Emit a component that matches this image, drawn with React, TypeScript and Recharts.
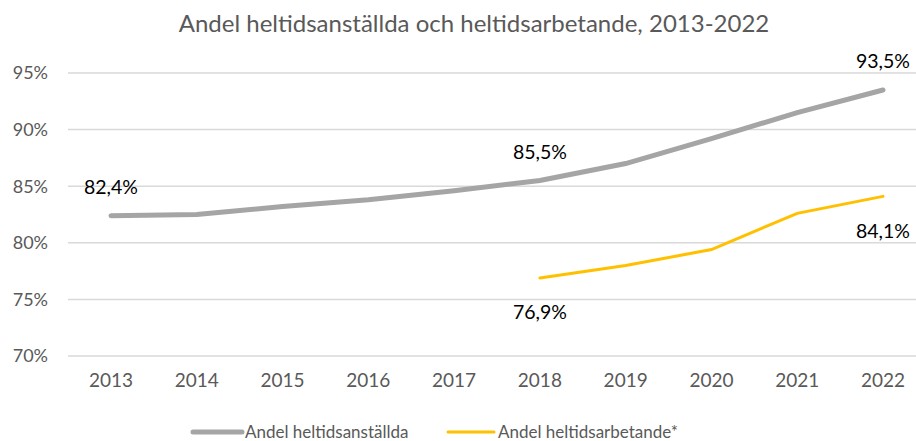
import React from 'react';
import { LineChart, Line, XAxis, YAxis, CartesianGrid, LabelList } from 'recharts';

const years = ['2013', '2014', '2015', '2016', '2017', '2018', '2019', '2020', '2021', '2022'];
const anstallda = [82.4, 82.5, 83.2, 83.8, 84.6, 85.5, 87.0, 89.2, 91.5, 93.5];
const arbetande = [null, null, null, null, null, 76.9, 78.0, 79.4, 82.6, 84.1];
const yTicks = [70, 75, 80, 85, 90, 95];
const anstalldaLabelIdx = [0, 5, 9];
const arbetandeLabelIdx = [5, 9];

const title = 'Andel heltidsanställda och heltidsarbetande, 2013-2022';
const seriesNames = ['Andel heltidsanställda', 'Andel heltidsarbetande*'];

const data = years.map((y, i) => ({ year: y, a: anstallda[i], b: arbetande[i] }));

const FONT = 'Lato, "Open Sans", sans-serif';
const fmt = (v: number) => v.toFixed(1).replace('.', ',') + '%';

const makeLabel = (idxs: number[], dy: number) => (props: any) => {
  const { x, y, value, index } = props;
  if (!idxs.includes(index) || value == null) return null;
  return (
    <text x={x} y={y + dy} textAnchor="middle" dominantBaseline="central"
      fontFamily={FONT} fontSize={19.5} fill="#000">
      {fmt(value)}
    </text>
  );
};

export default function App() {
  return (
    <div style={{ position: 'absolute', left: 0, top: 0, width: 916, height: 441, overflow: 'hidden', background: '#fff' }}>
      <svg width={916} height={441} style={{ position: 'absolute', left: 0, top: 0 }}>
        <text x={474} y={22} textAnchor="middle" dominantBaseline="central" fontFamily={FONT} fontSize={24} fill="#595959">{title}</text>
        <line x1={193} y1={432} x2={242} y2={432} stroke="#A5A5A5" strokeWidth={5} strokeLinecap="round" />
        <text x={245} y={431} dominantBaseline="central" fontFamily={FONT} fontSize={17} fill="#595959">{seriesNames[0]}</text>
        <line x1={448} y1={432} x2={494} y2={432} stroke="#FFC000" strokeWidth={3} strokeLinecap="round" />
        <text x={498} y={431} dominantBaseline="central" fontFamily={FONT} fontSize={17} fill="#595959">{seriesNames[1]}</text>
      </svg>
      <div style={{ position: 'absolute', left: 0, top: 0 }}>
        <LineChart width={926} height={441} data={data} margin={{ top: 73, right: 0, bottom: 55, left: 0 }}>
          <CartesianGrid vertical={false} stroke="#D9D9D9" strokeWidth={1.5} />
          <XAxis dataKey="year" axisLine={false} tickLine={false} padding={{ left: 43, right: 43 }} height={30}
            tick={{ fontFamily: FONT, fontSize: 19, fill: '#595959' }} dy={10} interval={0} />
          <YAxis domain={[70, 95]} ticks={yTicks} axisLine={false} tickLine={false} width={68}
            tickFormatter={(v: number) => v + '%'}
            tick={{ fontFamily: FONT, fontSize: 18, fill: '#595959', dx: -12 }} />
          <Line dataKey="a" stroke="#A5A5A5" strokeWidth={5} dot={false} isAnimationActive={false} strokeLinecap="round">
            <LabelList dataKey="a" content={makeLabel(anstalldaLabelIdx, -29)} />
          </Line>
          <Line dataKey="b" stroke="#FFC000" strokeWidth={3} dot={false} isAnimationActive={false} strokeLinecap="round">
            <LabelList dataKey="b" content={makeLabel(arbetandeLabelIdx, 34)} />
          </Line>
        </LineChart>
      </div>
    </div>
  );
}
